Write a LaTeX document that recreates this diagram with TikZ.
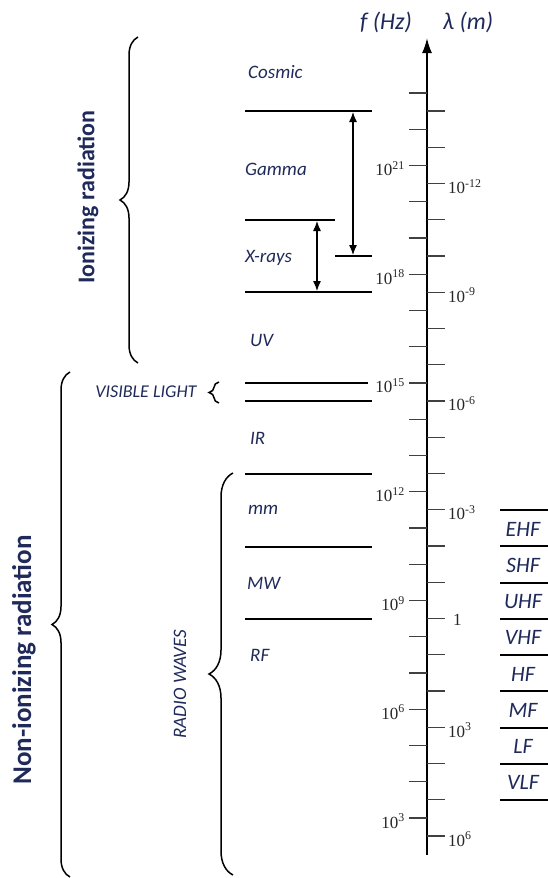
\documentclass[tikz,border=0pt]{standalone}
\usepackage{fontspec}
\setmainfont{Carlito}
\newfontfamily\serifnum{Liberation Serif}
\usetikzlibrary{arrows.meta,decorations.pathreplacing}
\definecolor{inkblue}{HTML}{1F2A5A}

\begin{document}
\begin{tikzpicture}[
  x=1pt,y=-1pt,
  >=Latex,
  axis/.style={-{Latex[length=15pt,width=10pt]},line width=1.8pt},
  band/.style={line width=2pt,draw=black},
  tickmark/.style={line width=1.4pt,draw=black!75},
  span/.style={{Latex[length=10pt,width=8pt]}-{Latex[length=10pt,width=8pt]},line width=1.2pt},
  region/.style={font=\fontsize{19}{20}\selectfont\itshape,text=inkblue,anchor=west,inner sep=0pt},
  bandname/.style={font=\fontsize{22}{23}\selectfont\itshape,text=inkblue,inner sep=0pt},
  head/.style={font=\fontsize{24}{25}\selectfont\itshape,text=inkblue,inner sep=0pt},
  freq/.style={font=\serifnum\fontsize{17}{18}\selectfont,text=black!85,anchor=east,inner sep=1pt},
  wave/.style={font=\serifnum\fontsize{17}{18}\selectfont,text=black!85,anchor=west,inner sep=1pt},
  bigbrace/.style={decorate,decoration={brace,amplitude=18pt},line width=1.5pt},
  sidelabel/.style={rotate=90,text=inkblue,inner sep=0pt}
]
\useasboundingbox (0,0) rectangle (548,878);

% axis with both scales
\coordinate (base) at (427,855);
\coordinate (top) at (427,38);
\draw[axis] (base) -- (top);
\node[head] (fhz) at (386,22) {f (Hz)};
\node[head] (lam) at (468,22) {λ (m)};
\foreach \k in {0,...,20}
  \draw[tickmark] (409,{93+36.25*\k}) -- (427,{93+36.25*\k});
\foreach \k in {0,...,20}
  \draw[tickmark] (427,{111+36.25*\k}) -- (445,{111+36.25*\k});
\foreach \k/\e in {2/21,5/18,8/15,11/12,14/9,17/6,20/3}
  \node[freq] (f\e) at (406,{93+36.25*\k+3}) {10\textsuperscript{\e}};
\foreach \k/\e in {2/-12,5/-9,8/-6,11/-3,17/3,20/6}
  \node[wave] (w\k) at (447,{111+36.25*\k+3}) {10\textsuperscript{\e}};
\node[wave] (w14) at (452,{111+36.25*14+1}) {1};

% band limits
\draw[band] (245,111) -- (372,111);
\draw[band] (245,220) -- (335,220);
\draw[band] (335,256) -- (372,256);
\draw[band] (245,292) -- (372,292);
\draw[band] (245,383) -- (368,383);
\draw[band] (245,401) -- (372,401);
\draw[band] (245,474) -- (372,474);
\draw[band] (245,547) -- (372,547);
\draw[band] (245,619) -- (372,619);

\coordinate (gtop) at (353,112);
\coordinate (gbot) at (353,255);
\coordinate (xtop) at (317,221);
\coordinate (xbot) at (317,291);
\draw[span] (gtop) -- (gbot);
\draw[span] (xtop) -- (xbot);

\node[region] (cosmic) at (248,72) {Cosmic};
\node[region] (gamma) at (245,169) {Gamma};
\node[region] (xray) at (245,258) {X-rays};
\node[region] (uv) at (250,340) {UV};
\node[region] (ir) at (250,438) {IR};
\node[region] (mm) at (248,510) {mm};
\node[region] (mw) at (247,583) {MW};
\node[region] (rf) at (250,655) {RF};

% radio bands on the right
\foreach \k in {0,...,8}
  \draw[band] (500,{510+36.25*\k}) -- (548,{510+36.25*\k});
\foreach \k/\t in {0/EHF,1/SHF,2/UHF,3/VHF,4/HF,5/MF,6/LF,7/VLF}
  \node[bandname] (b\t) at (523,{529+36.25*\k}) {\t};

% groups
\draw[bigbrace] (138,363) -- (138,37);
\node[sidelabel,font=\fontsize{24}{25}\selectfont\bfseries] (ion) at (88,197) {Ionizing radiation};
\draw[bigbrace] (70,877) -- (70,372);
\node[sidelabel,font=\fontsize{27}{28}\selectfont\bfseries] (nonion) at (24,660) {Non-ionizing radiation};
\draw[bigbrace,decoration={amplitude=24pt}] (233,875) -- (233,473);
\node[sidelabel,font=\fontsize{19}{20}\selectfont\itshape] (radio) at (180,684) {RADIO WAVES};
\draw[decorate,decoration={brace,amplitude=10pt},line width=1.5pt] (219,403) -- (219,382);
\node[font=\fontsize{18}{19}\selectfont\itshape,text=inkblue,inner sep=0pt] (visible) at (146,392) {VISIBLE LIGHT};
\end{tikzpicture}
\end{document}
